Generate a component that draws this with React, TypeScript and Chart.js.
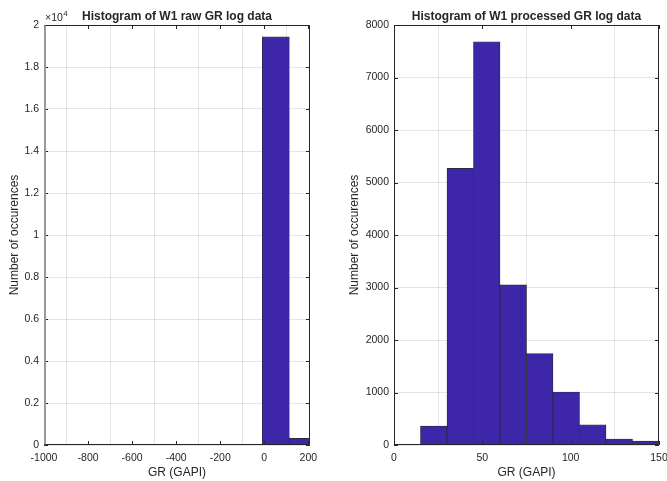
import React, { useEffect, useRef } from 'react';
import { Chart, registerables } from 'chart.js';

Chart.register(...registerables);

// ---- Data ----
const rawTitle = 'Histogram of W1 raw GR log data';
const rawBinCenters = [52.3, 175];
const rawBinCounts = [19440, 320];
const rawXTicks = [-1000, -800, -600, -400, -200, 0, 200];
const rawYTicks = [0, 2000, 4000, 6000, 8000, 10000, 12000, 14000, 16000, 18000, 20000];

const procTitle = 'Histogram of W1 processed GR log data';
const procBinCenters = [22.5, 37.5, 52.5, 67.5, 82.5, 97.5, 112.5, 127.5, 142.5];
const procBinCounts = [360, 5270, 7680, 3050, 1740, 1010, 385, 115, 75];
const procXTicks = [0, 50, 100, 150];
const procYTicks = [0, 1000, 2000, 3000, 4000, 5000, 6000, 7000, 8000];

const xLabel = 'GR (GAPI)';
const yLabel = 'Number of occurences';

const FONT = "'Liberation Sans', Arial, Helvetica, sans-serif";
const TEXT = '#262626';
const BAR = 'rgb(62,38,168)';
const GRID = 'rgba(38,38,38,0.12)';

const framePlugin = {
  id: 'matlabFrame',
  afterDraw(chart: any, _args: any, opts: any) {
    const { ctx, chartArea: a, scales } = chart;
    const xs = scales.x;
    const ys = scales.y;
    const len = 4;
    ctx.save();
    ctx.strokeStyle = TEXT;
    ctx.lineWidth = 1;
    ctx.beginPath();
    xs.ticks.forEach((t: any) => {
      const p = Math.round(xs.getPixelForValue(t.value)) + 0.5;
      ctx.moveTo(p, a.bottom);
      ctx.lineTo(p, a.bottom - len);
      ctx.moveTo(p, a.top);
      ctx.lineTo(p, a.top + len);
    });
    ys.ticks.forEach((t: any) => {
      const p = Math.round(ys.getPixelForValue(t.value)) + 0.5;
      ctx.moveTo(a.left, p);
      ctx.lineTo(a.left + len, p);
      ctx.moveTo(a.right, p);
      ctx.lineTo(a.right - len, p);
    });
    ctx.stroke();
    const L = Math.round(a.left) + 0.5;
    const R = Math.round(a.right) - 0.5;
    const T = Math.round(a.top) + 0.5;
    const B = Math.round(a.bottom) - 0.5;
    ctx.beginPath();
    ctx.moveTo(L, T);
    ctx.lineTo(R, T);
    ctx.lineTo(R, B);
    ctx.lineTo(L, B);
    ctx.stroke();
    ctx.beginPath();
    if (opts && opts.grayLeft) {
      ctx.strokeStyle = '#9a9a9a';
      ctx.lineWidth = 2;
      ctx.moveTo(L + 0.5, T);
      ctx.lineTo(L + 0.5, B);
    } else {
      ctx.moveTo(L, T);
      ctx.lineTo(L, B);
    }
    ctx.stroke();
    if (opts && opts.exponent) {
      ctx.fillStyle = TEXT;
      ctx.textBaseline = 'alphabetic';
      ctx.textAlign = 'left';
      ctx.font = `10.5px ${FONT}`;
      const base = '\u00d710';
      ctx.fillText(base, a.left + 1, 21);
      const w = ctx.measureText(base).width;
      ctx.font = `8px ${FONT}`;
      ctx.fillText(opts.exponent, a.left + 1 + w + 0.5, 16);
    }
    ctx.restore();
  },
};

function makeConfig(
  title: string,
  centers: number[],
  counts: number[],
  xTicks: number[],
  yTicks: number[],
  xMin: number,
  xMax: number,
  yMax: number,
  yAxisWidth: number,
  rightPad: number,
  yTitlePad: number,
  yFmt: (v: number) => string,
  pluginOpts: any
): any {
  return {
    type: 'bar',
    data: {
      datasets: [
        {
          data: centers.map((x, i) => ({ x, y: counts[i] })),
          backgroundColor: BAR,
          borderColor: 'rgba(30,30,30,0.95)',
          borderWidth: 0.7,
          barPercentage: 1,
          categoryPercentage: 1,
          clip: 0,
        },
      ],
    },
    options: {
      responsive: false,
      animation: false,
      events: [],
      layout: { padding: { left: 0, right: rightPad, top: 0, bottom: 0 } },
      plugins: {
        legend: { display: false },
        tooltip: { enabled: false },
        title: {
          display: true,
          text: title,
          fullSize: false,
          color: TEXT,
          font: { family: FONT, size: 12, weight: 'bold', lineHeight: 1.2 },
          padding: { top: 9.1, bottom: 1.5 },
        },
        matlabFrame: pluginOpts,
      },
      scales: {
        x: {
          type: 'linear',
          min: xMin,
          max: xMax,
          offset: false,
          afterBuildTicks: (s: any) => {
            s.ticks = xTicks.map((v) => ({ value: v }));
          },
          afterFit: (s: any) => {
            s.height = 36;
          },
          grid: { color: GRID, drawTicks: false, lineWidth: 1 },
          border: { display: false },
          ticks: {
            color: TEXT,
            font: { family: FONT, size: 10.5, lineHeight: 1.2 },
            padding: 6.5,
            maxRotation: 0,
            autoSkip: false,
            callback: (v: any) => String(v),
          },
          title: {
            display: true,
            text: xLabel,
            color: TEXT,
            font: { family: FONT, size: 12, lineHeight: 1.2 },
            padding: { top: 0, bottom: 1.2 },
          },
        },
        y: {
          type: 'linear',
          min: 0,
          max: yMax,
          afterBuildTicks: (s: any) => {
            s.ticks = yTicks.map((v) => ({ value: v }));
          },
          afterFit: (s: any) => {
            s.width = yAxisWidth;
          },
          grid: { color: GRID, drawTicks: false, lineWidth: 1 },
          border: { display: false },
          ticks: {
            color: TEXT,
            font: { family: FONT, size: 10.5, lineHeight: 1.2 },
            padding: 5,
            autoSkip: false,
            callback: (v: any) => yFmt(Number(v)),
          },
          title: {
            display: true,
            text: yLabel,
            color: TEXT,
            font: { family: FONT, size: 12, lineHeight: 1.2 },
            padding: { top: yTitlePad, bottom: 0 },
          },
        },
      },
    },
    plugins: [framePlugin],
  };
}

export default function App() {
  const leftRef = useRef<HTMLCanvasElement | null>(null);
  const rightRef = useRef<HTMLCanvasElement | null>(null);

  useEffect(() => {
    document.body.style.margin = '0';
    document.body.style.overflow = 'hidden';
    const charts: Chart[] = [];
    if (leftRef.current) {
      charts.push(
        new Chart(
          leftRef.current,
          makeConfig(
            rawTitle,
            rawBinCenters,
            rawBinCounts,
            rawXTicks,
            rawYTicks,
            -1000,
            207.5,
            20000,
            44,
            23,
            7.1,
            (v) => String(+(v / 10000).toFixed(1)),
            { grayLeft: true, exponent: '4' }
          )
        )
      );
    }
    if (rightRef.current) {
      charts.push(
        new Chart(
          rightRef.current,
          makeConfig(
            procTitle,
            procBinCenters,
            procBinCounts,
            procXTicks,
            procYTicks,
            0,
            150,
            8000,
            60,
            35,
            13.1,
            (v) => String(v),
            {}
          )
        )
      );
    }
    return () => {
      charts.forEach((c) => c.destroy());
    };
  }, []);

  return (
    <div
      style={{
        position: 'relative',
        width: 667,
        height: 481,
        overflow: 'hidden',
        background: '#ffffff',
      }}
    >
      <canvas
        ref={leftRef}
        width={333}
        height={481}
        style={{ position: 'absolute', left: 0, top: 0, width: 333, height: 481 }}
      />
      <canvas
        ref={rightRef}
        width={360}
        height={481}
        style={{ position: 'absolute', left: 334, top: 0, width: 360, height: 481 }}
      />
    </div>
  );
}
